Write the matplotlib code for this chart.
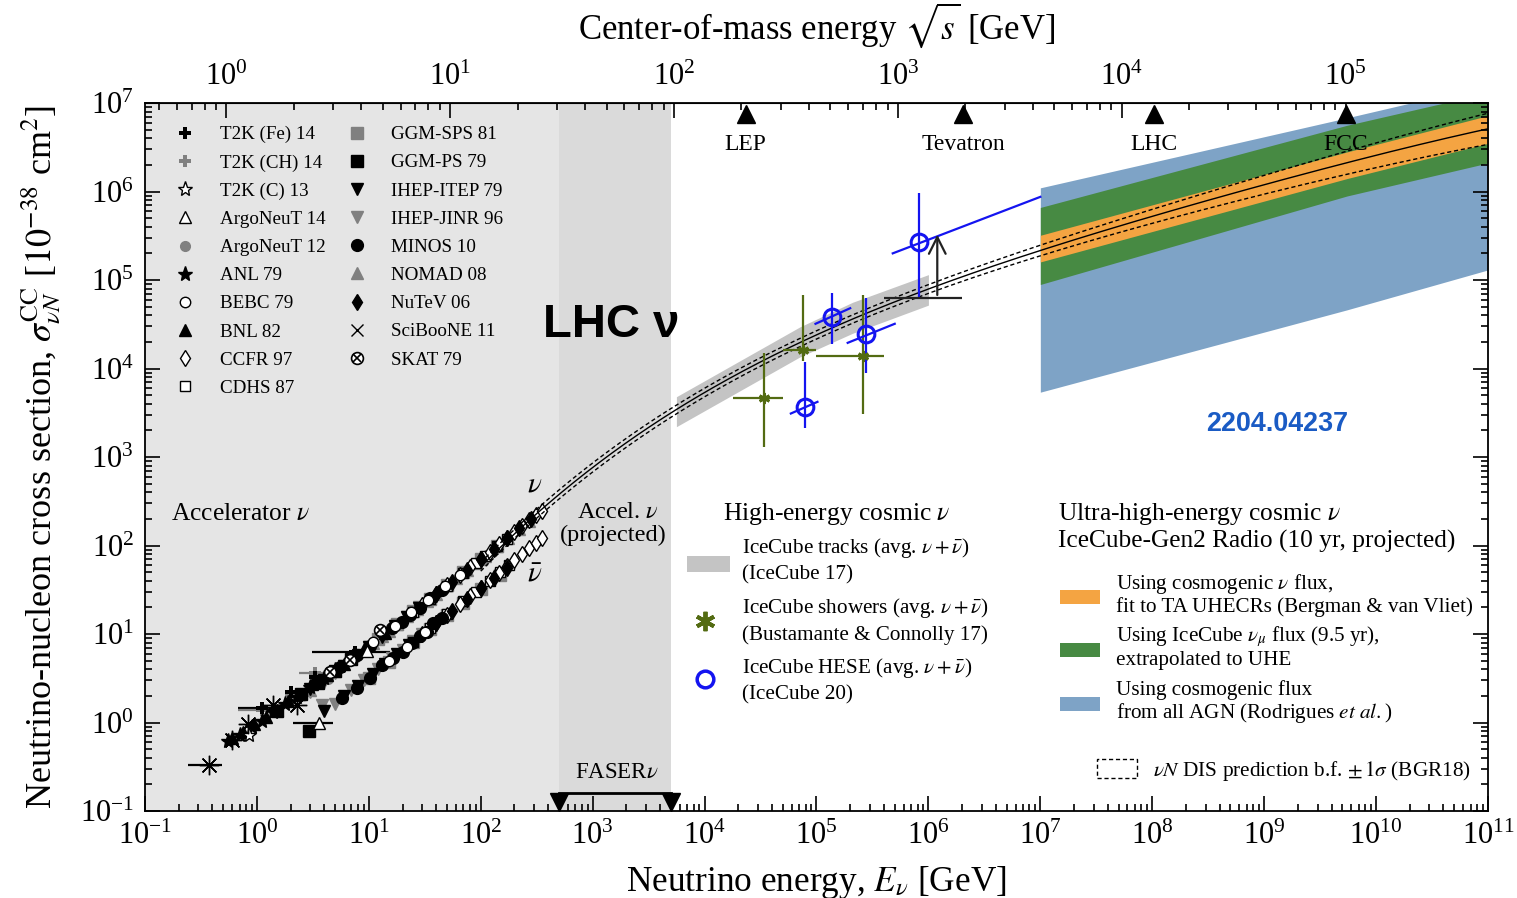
import numpy as np
import matplotlib
matplotlib.use('Agg')
import matplotlib.pyplot as plt
from matplotlib.lines import Line2D
from matplotlib.patches import Rectangle
from matplotlib.ticker import FixedLocator, LogLocator, LogFormatterMathtext, NullFormatter

plt.rcParams['font.family'] = ['Liberation Serif', 'DejaVu Serif']
plt.rcParams['mathtext.fontset'] = 'stix'

# ---------------- accelerator data (E in GeV, sigma in 1e-38 cm^2) ----------------
t2k_fe_E = [1.1, 2.0, 3.3, 7.6]
t2k_fe_sig = [1.46, 2.2, 3.3, 6.25]
t2k_fe_Elo = [0.68, 2.0, 3.3, 3.1]
t2k_fe_Ehi = [1.6, 2.0, 3.3, 15.4]

t2k_ch_E = [1.1, 2.0, 3.3]
t2k_ch_sig = [1.38, 2.05, 3.6]
t2k_ch_Elo = [0.68, 2.0, 2.4]
t2k_ch_Ehi = [1.6, 2.0, 4.2]

t2k_c_E = [0.85]
t2k_c_sig = [0.72]

argo14_E = [3.6, 9.6]
argo14_sig = [1.0, 6.4]
argo14_Elo = [2.1, 9.6]
argo14_Ehi = [4.8, 9.6]

argo12_E = [4.3]
argo12_sig = [3.1]

anl_E = [0.55, 0.7, 0.9, 1.1, 1.4, 1.8, 2.3, 3.0, 4.0, 5.0]
anl_sig = [0.62, 0.72, 0.88, 1.05, 1.3, 1.6, 1.95, 2.5, 3.2, 3.9]

bebc_nu_E = [11, 17, 24, 34, 48, 65]
bebc_nu_sig = [8.2, 12.3, 17.5, 24.5, 34.5, 46.5]
bebc_nub_E = [15, 22, 32]
bebc_nub_sig = [5.0, 7.2, 10.6]

bnl_E = [0.6, 0.75, 0.95, 1.2, 1.5, 1.9, 2.4, 3.1, 4.2, 6, 9, 14]
bnl_sig = [0.66, 0.78, 0.95, 1.15, 1.4, 1.75, 2.1, 2.7, 3.4, 4.6, 6.8, 10.2]

ccfr_nu_E = [30, 40, 50, 65, 80, 100, 120, 145, 170, 200, 235, 270, 310, 350]
ccfr_nu_sig = [21.5, 28.5, 35.5, 46, 56.5, 71, 85, 103, 121, 142, 167, 192, 220, 248]
ccfr_nub_E = [30, 40, 50, 65, 80, 100, 120, 145, 170, 200, 235, 270, 310, 350]
ccfr_nub_sig = [10, 13.3, 16.6, 21.6, 26.8, 33.5, 40.5, 49, 58, 68.5, 81, 93, 107, 121]

cdhs_nu_E = [25, 35, 50, 70, 90, 110, 140, 170]
cdhs_nu_sig = [17.8, 24.8, 35, 49.5, 63, 77, 98, 118]
cdhs_nub_E = [25, 35, 50, 70, 90, 120, 150, 180]
cdhs_nub_sig = [8.2, 11.6, 16.8, 23.5, 30, 40, 50, 60]

ggmsps_nu_E = [12, 18, 25, 35, 50, 70, 100, 140]
ggmsps_nu_sig = [8.7, 13, 18, 25, 36, 50, 71, 100]
ggmsps_nub_E = [10, 15, 25, 35, 50, 70, 100, 150]
ggmsps_nub_sig = [3.2, 4.8, 8.1, 11.5, 16.5, 22.5, 32, 47]

ggmps_nu_E = [1.5, 2.5, 3.5, 5, 7]
ggmps_nu_sig = [1.35, 2.1, 2.8, 3.8, 5.2]
ggmps_nub_E = [2.9]
ggmps_nub_sig = [0.8]

itep_nu_E = [3, 4, 6, 8, 10, 13, 17, 22, 28]
itep_nu_sig = [2.4, 3.0, 4.4, 5.8, 7.2, 9.3, 12.2, 15.6, 19.8]
itep_nub_E = [4, 6, 8, 11, 14, 18, 23]
itep_nub_sig = [1.35, 2.0, 2.6, 3.55, 4.6, 5.9, 7.6]

jinr_nu_E = [3, 4, 5, 6, 8, 10, 13, 17, 22, 28]
jinr_nu_sig = [2.2, 2.9, 3.6, 4.3, 5.7, 7.1, 9.2, 12, 15.5, 20]
jinr_nub_E = [3.8, 5, 7, 9, 12, 16, 20, 25, 30]
jinr_nub_sig = [1.58, 1.6, 2.3, 3.0, 4.0, 5.3, 6.6, 8.3, 10]

minos_nu_E = [5.5, 7.8, 10.2, 13.1, 16.1, 19.8, 23.3, 28.6, 35.1, 44.9]
minos_nu_sig = [4.25, 5.8, 7.3, 10.5, 11.7, 13.7, 16.4, 19.7, 25.5, 31.4]
minos_nub_E = [5.8, 7.8, 10.2, 13.1, 16.4, 20.2, 24.3, 28.6, 32.9, 37.4, 44.9]
minos_nub_sig = [1.89, 2.45, 3.18, 4.47, 5.35, 6.25, 7.9, 9.5, 10.5, 13.3, 15.1]

nomad_E = [3, 5, 7, 9, 11, 13, 15, 18, 22, 27, 33, 40, 50, 60, 75, 90, 110, 140, 175, 220, 270]
nomad_sig = [2.3, 3.8, 5.3, 6.6, 8.0, 9.4, 10.9, 13.0, 15.9, 19.4, 23.6, 28.6, 35.5, 42.5, 53, 63, 77, 98, 122, 154, 189]

nutev_nu_E = [40, 55, 75, 100, 130, 170, 220, 280]
nutev_nu_sig = [28.5, 39, 53, 71, 92, 121, 156, 199]
nutev_nub_E = [40, 55, 75, 100, 130, 170]
nutev_nub_sig = [13.3, 18.3, 25, 33, 43, 56]

sciboone_E = [0.37, 0.6, 0.83, 1.4, 2.3]
sciboone_sig = [0.33, 0.63, 0.95, 1.58, 1.58]
sciboone_Elo = [0.24, 0.6, 0.83, 1.4, 2.3]
sciboone_Ehi = [0.49, 0.6, 0.83, 1.4, 2.3]

skat_E = [4.5, 6.8, 12.5]
skat_sig = [3.7, 5.1, 11.0]

# ---------------- theory: nu N DIS (BGR18) ----------------
dis_E = [1e2, 1e3, 4.9e3, 6.2e4, 4.9e5, 2.9e6, 1e7, 2.5e8, 5.5e9, 1e11]
dis_sig = [57, 740, 3400, 1.7e4, 5.5e4, 1.2e5, 2.35e5, 7.6e5, 2.0e6, 5.2e6]
dis_rel_unc = [0.12, 0.12, 0.12, 0.12, 0.12, 0.12, 0.15, 0.23, 0.35, 0.5]

# ---------------- high-energy cosmic ----------------
tracks_E = [5.6e3, 7.1e4, 2.1e5, 1e6]
tracks_lo = [2.2e3, 1.35e4, 2.5e4, 5.2e4]
tracks_hi = [4.8e3, 2.95e4, 5.6e4, 1.15e5]

shw_E = [3.4e4, 7.6e4, 2.6e5]
shw_sig = [4600, 1.6e4, 1.4e4]
shw_sig_lo = [1300, 1.2e4, 3100]
shw_sig_hi = [1.5e4, 6.8e4, 6.8e4]
shw_E_lo = [1.8e4, 5.0e4, 1.0e5]
shw_E_hi = [5.0e4, 1.0e5, 4.0e5]

hese_E = [7.9e4, 1.38e5, 2.75e5, 8.3e5]
hese_sig = [3700, 3.8e4, 2.45e4, 2.7e5]
hese_sig_lo = [2100, 1.9e4, 8900, 6.3e4]
hese_sig_hi = [1.17e4, 7.1e4, 6.2e4, 9.5e5]
hese_E_lo = [5.9e4, 9.8e4, 1.9e5, 4.8e5]
hese_E_hi = [1.02e5, 2.0e5, 5.0e5, 1e7]
hese_bar_sig_lo = [3100, 3.2e4, 1.95e4, 2.0e5]
hese_bar_sig_hi = [4200, 4.8e4, 3.2e4, 8.7e5]

ll_E, ll_E_lo, ll_E_hi = 1.2e6, 4.0e5, 2.0e6
ll_sig, ll_sig_top = 6.3e4, 3.5e5

# ---------------- UHE projections (IceCube-Gen2 Radio) ----------------
uhe_E = [1e7, 5.5e9, 1e11]
orange_lo = [1.6e5, 1.4e6, 3.5e6]
orange_hi = [3.2e5, 2.8e6, 7.2e6]
green_lo = [8.9e4, 8.9e5, 2.1e6]
green_hi = [6.6e5, 5.6e6, 1.3e7]
blue_lo = [5.4e3, 4.6e4, 1.3e5]
blue_hi = [1.1e6, 6.8e6, 1.6e7]

# ---------------- colliders ----------------
m_N = 0.938
collider_names = ['LEP', 'Tevatron', 'LHC', 'FCC']
collider_sqrts = [209, 1960, 1.4e4, 1e5]
faser_E = [500, 5000]

GRAY = '#808080'

fig = plt.figure(figsize=(15.17, 8.98), dpi=100)
ax = fig.add_axes([145/1517, 87/898, 1343/1517, 708/898])
ax.set_xscale('log')
ax.set_yscale('log')
ax.set_xlim(1e-1, 1e11)
ax.set_ylim(1e-1, 1e7)


def A(x, y):
    # pixel position in the reference -> axes fraction
    return (x - 145) / 1343, (811 - y) / 708


ax.axvspan(1e-1, faser_E[0], color='#e5e5e5', lw=0, zorder=0)
ax.axvspan(faser_E[0], faser_E[1], color='#dadada', lw=0, zorder=0)


def pts(E, s, mk, fc, ec, ms=8, mew=1.0, z=4):
    return ax.plot(E, s, ls='none', marker=mk, mfc=fc, mec=ec, ms=ms, mew=mew, zorder=z)[0]


def hbar(s, lo, hi, c):
    ax.hlines(s, lo, hi, color=c, lw=1.6, zorder=3)


hbar(t2k_fe_sig, t2k_fe_Elo, t2k_fe_Ehi, 'k')
hbar(t2k_ch_sig, t2k_ch_Elo, t2k_ch_Ehi, GRAY)
hbar(argo14_sig, argo14_Elo, argo14_Ehi, 'k')
hbar(sciboone_sig, sciboone_Elo, sciboone_Ehi, 'k')

h = {}
h['GGM-SPS 81'] = pts(ggmsps_nu_E, ggmsps_nu_sig, 's', GRAY, GRAY)
pts(ggmsps_nub_E, ggmsps_nub_sig, 's', GRAY, GRAY)
h['NOMAD 08'] = pts(nomad_E, nomad_sig, '^', GRAY, GRAY)
h['IHEP-JINR 96'] = pts(jinr_nu_E, jinr_nu_sig, 'v', GRAY, GRAY)
pts(jinr_nub_E, jinr_nub_sig, 'v', GRAY, GRAY)
h['T2K (CH) 14'] = pts(t2k_ch_E, t2k_ch_sig, 'P', GRAY, GRAY, ms=9, mew=0)
h['ArgoNeuT 12'] = pts(argo12_E, argo12_sig, 'o', GRAY, GRAY, ms=7)
h['CDHS 87'] = pts(cdhs_nu_E, cdhs_nu_sig, 's', 'w', 'k', ms=7.5)
pts(cdhs_nub_E, cdhs_nub_sig, 's', 'w', 'k', ms=7.5)
h['CCFR 97'] = pts(ccfr_nu_E, ccfr_nu_sig, 'd', 'w', 'k', ms=8)
pts(ccfr_nub_E, ccfr_nub_sig, 'd', 'w', 'k', ms=8)
h['NuTeV 06'] = pts(nutev_nu_E, nutev_nu_sig, 'd', 'k', 'k', ms=8)
pts(nutev_nub_E, nutev_nub_sig, 'd', 'k', 'k', ms=8)
h['MINOS 10'] = pts(minos_nu_E, minos_nu_sig, 'o', 'k', 'k', ms=8.5)
pts(minos_nub_E, minos_nub_sig, 'o', 'k', 'k', ms=8.5)
h['IHEP-ITEP 79'] = pts(itep_nu_E, itep_nu_sig, 'v', 'k', 'k')
pts(itep_nub_E, itep_nub_sig, 'v', 'k', 'k')
h['BEBC 79'] = pts(bebc_nu_E, bebc_nu_sig, 'o', 'w', 'k', ms=7.5)
pts(bebc_nub_E, bebc_nub_sig, 'o', 'w', 'k', ms=7.5)
h['GGM-PS 79'] = pts(ggmps_nu_E, ggmps_nu_sig, 's', 'k', 'k')
pts(ggmps_nub_E, ggmps_nub_sig, 's', 'k', 'k')
h['BNL 82'] = pts(bnl_E, bnl_sig, '^', 'k', 'k', ms=9)
h['ANL 79'] = pts(anl_E, anl_sig, '*', 'k', 'k', ms=11)
h['T2K (Fe) 14'] = pts(t2k_fe_E, t2k_fe_sig, 'P', 'k', 'k', ms=9, mew=0)
h['T2K (C) 13'] = pts(t2k_c_E, t2k_c_sig, '*', 'w', 'k', ms=11)
h['ArgoNeuT 14'] = pts(argo14_E, argo14_sig, '^', 'w', 'k', ms=9)
pts(sciboone_E, sciboone_sig, (8, 2, 0), 'k', 'k', ms=14, mew=1.0)
skat_o = pts(skat_E, skat_sig, 'o', 'w', 'k', ms=8.5, mew=1.2)
skat_x = pts(skat_E, skat_sig, 'x', 'k', 'k', ms=6, mew=1.2, z=5)
h['SciBooNE 11'] = Line2D([], [], ls='none', marker='x', mec='k', ms=9, mew=1.0)
h['SKAT 79'] = (Line2D([], [], ls='none', marker='o', mfc='w', mec='k', ms=8.5, mew=1.2),
                Line2D([], [], ls='none', marker='x', mec='k', ms=6, mew=1.2))

order = ['T2K (Fe) 14', 'T2K (CH) 14', 'T2K (C) 13', 'ArgoNeuT 14', 'ArgoNeuT 12',
         'ANL 79', 'BEBC 79', 'BNL 82', 'CCFR 97', 'CDHS 87',
         'GGM-SPS 81', 'GGM-PS 79', 'IHEP-ITEP 79', 'IHEP-JINR 96', 'MINOS 10',
         'NOMAD 08', 'NuTeV 06', 'SciBooNE 11', 'SKAT 79']
leg = ax.legend([h[k] for k in order], order, ncol=2, loc='upper left',
                bbox_to_anchor=A(173, 126), frameon=False, fontsize=13.7,
                handlelength=1.3, handletextpad=1.15, columnspacing=1.0,
                labelspacing=0.57, borderaxespad=0, borderpad=0)

# ---- UHE bands ----
ax.fill_between(uhe_E, blue_lo, blue_hi, color='#7ea3c6', lw=0, zorder=1)
ax.fill_between(uhe_E, green_lo, green_hi, color='#478a43', lw=0, zorder=1)
ax.fill_between(uhe_E, orange_lo, orange_hi, color='#f4a442', lw=0, zorder=1)

# ---- IceCube tracks band ----
ax.fill_between(tracks_E, tracks_lo, tracks_hi, color='#c4c4c4', lw=0, zorder=1)

# ---- DIS prediction ----
lx = np.log10(dis_E)
c_mid = np.polyfit(lx, np.log10(dis_sig), 4)
c_hi = np.polyfit(lx, np.log10(np.array(dis_sig) * (1 + np.array(dis_rel_unc))), 4)
c_lo = np.polyfit(lx, np.log10(np.array(dis_sig) / (1 + np.array(dis_rel_unc))), 4)
xx = np.linspace(lx[0], lx[-1], 400)
ax.plot(10**xx, 10**np.polyval(c_mid, xx), color='k', lw=1.0, zorder=6)
ax.plot(10**xx, 10**np.polyval(c_hi, xx), color='k', lw=1.0, ls=(0, (3, 2)), zorder=6)
ax.plot(10**xx, 10**np.polyval(c_lo, xx), color='k', lw=1.0, ls=(0, (3, 2)), zorder=6)

# ---- IceCube showers ----
SH = '#536b12'
ax.vlines(shw_E, shw_sig_lo, shw_sig_hi, color=SH, lw=1.6, zorder=7)
ax.hlines(shw_sig, shw_E_lo, shw_E_hi, color=SH, lw=1.6, zorder=7)
ax.plot(shw_E, shw_sig, ls='none', marker=(6, 2, 0), mec=SH, ms=8, mew=2, zorder=8)

# ---- IceCube HESE ----
HB = '#1414f0'
ax.vlines(hese_E, hese_sig_lo, hese_sig_hi, color=HB, lw=1.6, zorder=7)
for e0, e1, s0, s1 in zip(hese_E_lo, hese_E_hi, hese_bar_sig_lo, hese_bar_sig_hi):
    ax.plot([e0, e1], [s0, s1], color=HB, lw=1.6, zorder=7)
ax.plot(hese_E, hese_sig, ls='none', marker='o', mfc='none', mec=HB, ms=12, mew=2.2, zorder=8)

# ---- lower limit ----
ax.hlines(ll_sig, ll_E_lo, ll_E_hi, color='#222222', lw=1.6, zorder=7)
ax.annotate('', xy=(ll_E, ll_sig_top), xytext=(ll_E, ll_sig),
            arrowprops=dict(arrowstyle='->', color='#222222', lw=1.6, mutation_scale=30), zorder=7)

# ---- colliders on top ----
trans = ax.get_xaxis_transform()
for name, rs in zip(collider_names, collider_sqrts):
    e = rs**2 / (2 * m_N)
    ax.plot(e, 0.984, marker='^', color='k', ms=13, transform=trans, clip_on=False, zorder=9)
    ax.text(e, 0.942, name, transform=trans, ha='center', va='center', fontsize=17, zorder=9)

# ---- FASERnu ----
ax.plot(faser_E, [0.013, 0.013], ls='none', marker='v', color='k', ms=13, transform=trans,
        clip_on=False, zorder=9)
ax.plot(faser_E, [0.026, 0.026], color='k', lw=2, transform=trans, zorder=9)
ax.text(*A(617, 772), r'FASER$\nu$', transform=ax.transAxes, ha='center', va='center', fontsize=16.5)

# ---- texts ----
ax.text(*A(240, 514), r'Accelerator $\nu$', transform=ax.transAxes, ha='center', va='center', fontsize=18.4)
ax.text(*A(618, 512), r'Accel. $\nu$', transform=ax.transAxes, ha='center', va='center', fontsize=17.5)
ax.text(*A(613, 535), '(projected)', transform=ax.transAxes, ha='center', va='center', fontsize=17.5)
ax.text(*A(535, 484), r'$\nu$', transform=ax.transAxes, ha='center', va='center', fontsize=21)
ax.text(*A(535, 574), r'$\bar{\nu}$', transform=ax.transAxes, ha='center', va='center', fontsize=21)
ax.text(*A(611, 325), r'LHC ν', transform=ax.transAxes, ha='center', va='center', fontsize=34,
        fontweight='bold', family='Liberation Sans')
ax.text(*A(1277, 424), '2204.04237', transform=ax.transAxes, ha='center', va='center', fontsize=19.4,
        fontweight='bold', family='Liberation Sans', color='#1a5bc4')

# high-energy cosmic legend
ax.text(*A(837, 514), r'High-energy cosmic $\nu$', transform=ax.transAxes, ha='center', va='center', fontsize=18.4)
x0, y0 = A(687, 572)
x1, y1 = A(730, 556)
ax.add_patch(Rectangle((x0, y0), x1 - x0, y1 - y0, transform=ax.transAxes, color='#c4c4c4', lw=0))
ax.plot(*A(705, 621), marker=(6, 2, 0), mec=SH, ms=14, mew=2.8, transform=ax.transAxes)
ax.plot(*A(705, 679), marker='o', mfc='none', mec=HB, ms=12, mew=2.5, transform=ax.transAxes)
he_lines = [(548, r'IceCube tracks (avg. $\nu + \bar{\nu}$)'), (575, '(IceCube 17)'),
            (608, r'IceCube showers (avg. $\nu + \bar{\nu}$)'), (635, '(Bustamante & Connolly 17)'),
            (668, r'IceCube HESE (avg. $\nu + \bar{\nu}$)'), (695, '(IceCube 20)')]
for yy, t in he_lines:
    ax.text(*A(742, yy), t, transform=ax.transAxes, ha='left', va='center', fontsize=15.2)

# UHE legend
ax.text(*A(1058, 514), r'Ultra-high-energy cosmic $\nu$', transform=ax.transAxes, ha='left', va='center', fontsize=18.4)
ax.text(*A(1058, 541), 'IceCube-Gen2 Radio (10 yr, projected)', transform=ax.transAxes, ha='left', va='center', fontsize=18.3)
for (ya, yb), col in zip([(590, 604), (643, 657), (697, 711)], ['#f4a442', '#478a43', '#7ea3c6']):
    x0, y0 = A(1060, yb)
    x1, y1 = A(1100, ya)
    ax.add_patch(Rectangle((x0, y0), x1 - x0, y1 - y0, transform=ax.transAxes, color=col, lw=0))
uhe_lines = [(584, r'Using cosmogenic $\nu$ flux,'), (607, 'fit to TA UHECRs (Bergman & van Vliet)'),
             (637, r'Using IceCube $\nu_\mu$ flux (9.5 yr),'), (660, 'extrapolated to UHE'),
             (690, 'Using cosmogenic flux'), (713, r'from all AGN (Rodrigues $\it{et\ al.}$)')]
for yy, t in uhe_lines:
    ax.text(*A(1116, yy), t, transform=ax.transAxes, ha='left', va='center', fontsize=15.2)

# DIS legend (dashed box)
x0, y0 = A(1097, 778)
x1, y1 = A(1137, 759)
ax.add_patch(Rectangle((x0, y0), x1 - x0, y1 - y0, transform=ax.transAxes, fill=False,
                       ec='k', lw=1.0, ls=(0, (3, 2))))
ax.text(*A(1153, 771), r'$\nu N$ DIS prediction b.f. $\pm\,1\sigma$ (BGR18)', transform=ax.transAxes,
        ha='left', va='center', fontsize=15.3)

# ---- axes, ticks ----
ax.xaxis.set_major_locator(FixedLocator([10.0**k for k in range(-1, 12)]))
ax.xaxis.set_major_formatter(LogFormatterMathtext())
ax.xaxis.set_minor_locator(LogLocator(base=10, subs=np.arange(2, 10), numticks=100))
ax.xaxis.set_minor_formatter(NullFormatter())
ax.yaxis.set_major_locator(FixedLocator([10.0**k for k in range(-1, 8)]))
ax.yaxis.set_major_formatter(LogFormatterMathtext())
ax.yaxis.set_minor_locator(LogLocator(base=10, subs=np.arange(2, 10), numticks=100))
ax.yaxis.set_minor_formatter(NullFormatter())
ax.tick_params(which='both', direction='in', top=False, right=True, labelsize=22, width=1.2)
ax.tick_params(which='major', length=11, pad=8)
ax.tick_params(which='minor', length=5)
for sp in ax.spines.values():
    sp.set_linewidth(1.3)


def fwd(e):
    return np.sqrt(2 * m_N * np.clip(e, 1e-30, None))


def inv(s):
    return s**2 / (2 * m_N)


sec = ax.secondary_xaxis('top', functions=(fwd, inv))
sec.xaxis.set_major_locator(FixedLocator([10.0**k for k in range(0, 6)]))
sec.xaxis.set_major_formatter(LogFormatterMathtext())
sec.xaxis.set_minor_locator(LogLocator(base=10, subs=np.arange(2, 10), numticks=100))
sec.xaxis.set_minor_formatter(NullFormatter())
sec.tick_params(which='both', direction='in', labelsize=22, width=1.2)
sec.tick_params(which='major', length=11, pad=8)
sec.tick_params(which='minor', length=5)
sec.set_xlabel(r'Center-of-mass energy $\sqrt{s}$ [GeV]', fontsize=25, labelpad=17)

ax.set_xlabel(r'Neutrino energy, $E_\nu$ [GeV]', fontsize=25.4, labelpad=9)
ax.set_ylabel(r'Neutrino-nucleon cross section, $\sigma_{\nu N}^{\rm CC}$ [$10^{-38}$ cm$^2$]',
              fontsize=26, labelpad=12)

fig.savefig('out.png', dpi=100)
